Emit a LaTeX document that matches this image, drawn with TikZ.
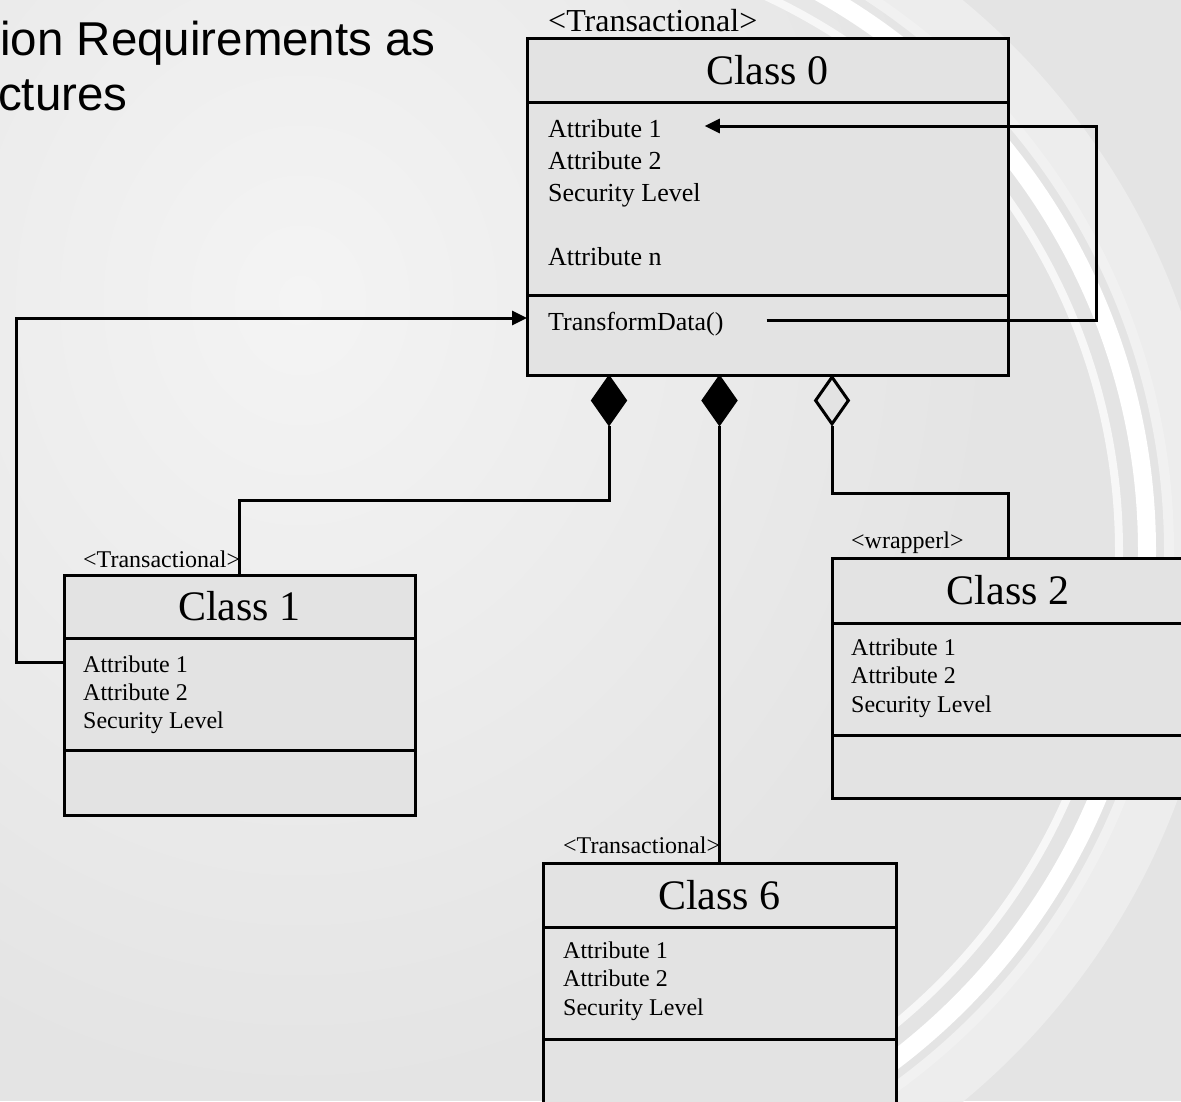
\documentclass[tikz,border=0pt]{standalone}
\usepackage{fontspec}
\setmainfont{Liberation Serif}
\newfontfamily\slidefont{Liberation Sans}
\usetikzlibrary{shapes,arrows,arrows.meta,positioning}

\definecolor{boxgray}{RGB}{227,227,227}
\definecolor{bglight}{RGB}{244,244,244}
\definecolor{bgdark}{RGB}{228,228,228}
\definecolor{bgband}{RGB}{237,237,237}

\begin{document}
\begin{tikzpicture}[x=1pt,y=-1pt,
  cls/.style={draw, line width=3pt, fill=boxgray, inner sep=0pt, outer sep=0pt},
  clsname/.style={cls, font=\fontsize{42}{50}\selectfont},
  tag/.style={inner sep=0pt, anchor=base west, font=\fontsize{24}{28}\selectfont},
  attr/.style={inner sep=0pt, anchor=base west, font=\fontsize{24}{28}\selectfont},
  bigattr/.style={inner sep=0pt, anchor=base west, font=\fontsize{26}{32}\selectfont},
  agg/.style={diamond, draw, line width=3pt, inner sep=0pt, minimum width=34pt, minimum height=48pt, anchor=north},
  conn/.style={line width=3pt},
  arr/.style={conn, -{Triangle[length=15pt,width=14pt]}}]

  % Slide background
  \useasboundingbox (0,0) rectangle (1181,1101);
  \clip (0,0) rectangle (1181,1101);
  \fill[bgdark] (0,0) rectangle (1181,1101);
  \shade[inner color=bglight, outer color=bgdark] (-400,-500) rectangle (1000,1100);
  \begin{scope}
    \clip (760,0) rectangle (1181,1101);
    \draw[bgband, line width=50pt] (507,551) circle (690);
    \draw[white!50!bgdark, line width=10pt] (507,551) circle (662);
    \draw[white, line width=18pt] (507,551) circle (640);
    \draw[white!70!bgdark, line width=8pt] (507,551) circle (612);
  \end{scope}

  % Slide title (cut off)
  \node[inner sep=0pt, anchor=base west, font=\slidefont\fontsize{47.5}{55}\selectfont] (ttl1) at (0,55) {ion Requirements as};
  \node[inner sep=0pt, anchor=base west, font=\slidefont\fontsize{47.5}{55}\selectfont] (ttl2) at (-2,110) {ctures};

  % Class 0
  \node[clsname, minimum width=481pt, minimum height=64pt, anchor=north west] (c0head) at (527,38) {Class 0};
  \node[cls, minimum width=481pt, minimum height=193pt, below=0pt of c0head] (c0attr) {};
  \node[cls, minimum width=481pt, minimum height=80pt, below=0pt of c0attr] (c0meth) {};
  \node[tag, font=\fontsize{32}{36}\selectfont] (c0tag) at ([shift={(21pt,7pt)}]c0head.north west) {<Transactional>};
  \node[bigattr] (a01) at ([shift={(21pt,-35pt)}]c0attr.north west) {Attribute 1};
  \node[bigattr] (a02) at ([yshift=-32pt]a01.base west) {Attribute 2};
  \node[bigattr] (a03) at ([yshift=-32pt]a02.base west) {Security Level};
  \node[bigattr] (a0n) at ([yshift=-64pt]a03.base west) {Attribute n};
  \node[bigattr] (m0) at ([shift={(21pt,-35pt)}]c0meth.north west) {TransformData()};

  % Class 1
  \node[clsname, minimum width=351pt, minimum height=63pt, anchor=north west] (c1head) at (64,575) {Class 1};
  \node[cls, minimum width=351pt, minimum height=112pt, below=0pt of c1head] (c1attr) {};
  \node[cls, minimum width=351pt, minimum height=65pt, below=0pt of c1attr] (c1meth) {};
  \node[tag] (c1tag) at ([shift={(19pt,8pt)}]c1head.north west) {<Transactional>};
  \foreach \txt [count=\i from 0] in {Attribute 1, Attribute 2, Security Level}
    \node[attr] (c1a\i) at ([xshift=19pt, yshift={-34pt-28pt*\i}]c1attr.north west) {\txt};

  % Class 2
  \node[clsname, minimum width=352pt, minimum height=65pt, anchor=north west] (c2head) at (832,558) {Class 2};
  \node[cls, minimum width=352pt, minimum height=112pt, below=0pt of c2head] (c2attr) {};
  \node[cls, minimum width=352pt, minimum height=63pt, below=0pt of c2attr] (c2meth) {};
  \node[tag] (c2tag) at ([shift={(19pt,10pt)}]c2head.north west) {<wrapperl>};
  \foreach \txt [count=\i from 0] in {Attribute 1, Attribute 2, Security Level}
    \node[attr] (c2a\i) at ([xshift=19pt, yshift={-32pt-28.5pt*\i}]c2attr.north west) {\txt};

  % Class 6
  \node[clsname, minimum width=353pt, minimum height=64pt, anchor=north west] (c6head) at (543,863) {Class 6};
  \node[cls, minimum width=353pt, minimum height=112pt, below=0pt of c6head] (c6attr) {};
  \node[cls, minimum width=353pt, minimum height=80pt, below=0pt of c6attr] (c6meth) {};
  \node[tag] (c6tag) at ([shift={(20pt,10pt)}]c6head.north west) {<Transactional>};
  \foreach \txt [count=\i from 0] in {Attribute 1, Attribute 2, Security Level}
    \node[attr] (c6a\i) at ([xshift=20pt, yshift={-31pt-28.5pt*\i}]c6attr.north west) {\txt};

  % Aggregation diamonds
  \node[agg, fill=black] (d1) at (609,375) {};
  \node[agg, fill=black] (d2) at (719.5,375) {};
  \node[agg, fill=boxgray] (d3) at (832,375) {};

  % Connectors
  \draw[conn] (d1.south) -- ++(0,74) -| (c1head.north);
  \draw[conn] (d2.south) -- (c6head.north);
  \draw[conn] (d3.south) -- ++(0,67) -| (c2head.north);
  \draw[arr] ([yshift=32pt]c1attr.west) -- ++(-48,0) |- ([yshift=17pt]c0meth.west);
  \draw[arr] ([shift={(43pt,10pt)}]m0.base east) -- ++(330,0) |- ([shift={(43pt,11pt)}]a01.base east);
\end{tikzpicture}
\end{document}
